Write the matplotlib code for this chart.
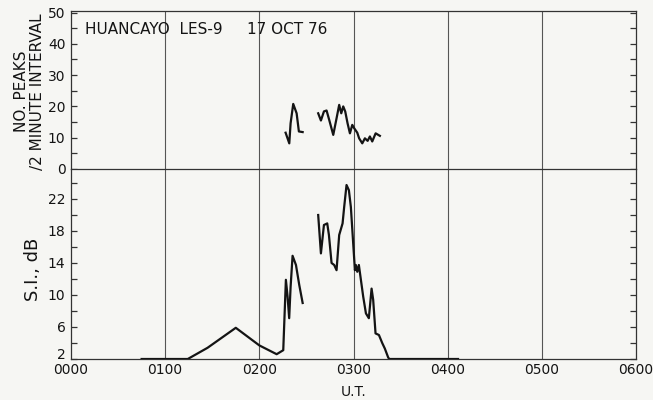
import matplotlib
matplotlib.use("Agg")
import matplotlib.pyplot as plt
from matplotlib.ticker import MultipleLocator

# Time in hours U.T.
peaks_t1 = [2.279, 2.318, 2.332, 2.360, 2.396, 2.420, 2.460]
peaks_v1 = [11.6, 8.2, 14.6, 20.8, 17.8, 12.0, 11.8]
peaks_t2 = [2.625, 2.654, 2.686, 2.714, 2.742, 2.785, 2.820, 2.848, 2.870,
            2.891, 2.912, 2.937, 2.962, 2.987, 3.008, 3.040, 3.060, 3.093,
            3.121, 3.150, 3.174, 3.199, 3.235, 3.280]
peaks_v2 = [17.8, 15.5, 18.4, 18.7, 15.7, 10.9, 16.2, 20.5, 17.8,
            20.0, 18.4, 14.6, 11.4, 14.1, 13.0, 11.6, 9.8, 8.2,
            9.8, 9.0, 10.4, 8.8, 11.4, 10.6]

si_t1 = [0.75, 1.24, 1.45, 1.75, 2.00, 2.184, 2.254, 2.282, 2.300, 2.317,
         2.332, 2.353, 2.389, 2.424, 2.460]
si_v1 = [2.0, 2.0, 3.4, 5.9, 3.7, 2.6, 3.1, 11.9, 9.8, 7.1,
         11.0, 14.9, 13.75, 11.25, 9.0]
si_t2 = [2.625, 2.654, 2.686, 2.721, 2.739, 2.767, 2.795, 2.820, 2.848,
         2.884, 2.901, 2.926, 2.951, 2.972, 3.015, 3.025, 3.040, 3.057,
         3.103, 3.132, 3.163, 3.192, 3.209, 3.234, 3.270, 3.305, 3.333,
         3.368, 3.380, 4.11]
si_v2 = [20.0, 15.2, 18.75, 18.95, 17.5, 14.0, 13.75, 13.1, 17.5,
         18.95, 21.0, 23.75, 23.1, 21.0, 13.1, 13.75, 12.9, 13.75,
         9.8, 7.7, 7.1, 10.8, 9.4, 5.2, 5.0, 4.0, 3.3,
         2.2, 2.0, 2.0]

hour_ticks = [0, 1, 2, 3, 4, 5, 6]
hour_labels = ["0000", "0100", "0200", "0300", "0400", "0500", "0600"]
peak_ticks = [0, 10, 20, 30, 40, 50]
si_ticks = [2, 6, 10, 14, 18, 22]

ink = "#141414"
paper = "#f6f6f3"
grid_col = "#555555"

fig = plt.figure(figsize=(6.53, 4.00), dpi=100, facecolor=paper)
left, right = 71 / 653, 636 / 653
y_bot = 1 - 359 / 400
y_mid = 1 - 169 / 400
y_top = 1 - 11 / 400
ax_top = fig.add_axes([left, y_mid, right - left, y_top - y_mid])
ax_bot = fig.add_axes([left, y_bot, right - left, y_mid - y_bot])

for ax in (ax_top, ax_bot):
    ax.set_facecolor(paper)
    ax.set_xlim(0, 6)
    for h in hour_ticks[1:-1]:
        ax.axvline(h, color=grid_col, lw=0.8, zorder=1)
    for s in ax.spines.values():
        s.set_color("#333333")
        s.set_linewidth(0.9)
    ax.tick_params(axis="y", which="both", direction="in", length=4,
                   width=0.9, color="#333333", right=True, labelsize=10,
                   labelcolor=ink, pad=4)
    ax.tick_params(axis="x", which="both", length=0)

# Upper panel: number of peaks
ax_top.plot(peaks_t1, peaks_v1, color=ink, lw=1.6, zorder=3)
ax_top.plot(peaks_t2, peaks_v2, color=ink, lw=1.6, zorder=3)
ax_top.set_ylim(0, 50.5)
ax_top.set_yticks(peak_ticks)
ax_top.yaxis.set_minor_locator(MultipleLocator(5))
ax_top.set_xticks([])
ax_top.spines["bottom"].set_visible(False)
ax_top.set_ylabel("NO. PEAKS\n/2 MINUTE INTERVAL", fontsize=11,
                  color=ink, linespacing=1.05)
ax_top.yaxis.set_label_coords(-0.046, 0.49)
ax_top.text(0.15, 44.6, "HUANCAYO  LES-9     17 OCT 76", fontsize=11,
            color=ink, va="center", ha="left")

# Lower panel: scintillation index
ax_bot.plot(si_t1, si_v1, color=ink, lw=1.6, zorder=3)
ax_bot.plot(si_t2, si_v2, color=ink, lw=1.6, zorder=3)
ax_bot.set_ylim(2, 25.75)
ax_bot.set_yticks(si_ticks)
ax_bot.yaxis.set_minor_locator(MultipleLocator(2))
for lbl in ax_bot.get_yticklabels():
    if lbl.get_text() == "2":
        lbl.set_verticalalignment("baseline")
ax_bot.set_xticks(hour_ticks)
ax_bot.set_xticklabels(hour_labels, fontsize=10, color=ink)
ax_bot.tick_params(axis="x", pad=3)
ax_bot.set_ylabel("S.I., dB", fontsize=13, color=ink)
ax_bot.yaxis.set_label_coords(-0.052, 0.47)
ax_bot.set_xlabel("U.T.", fontsize=10, color=ink, labelpad=6)

fig.savefig("out.png", dpi=100, facecolor=paper)
